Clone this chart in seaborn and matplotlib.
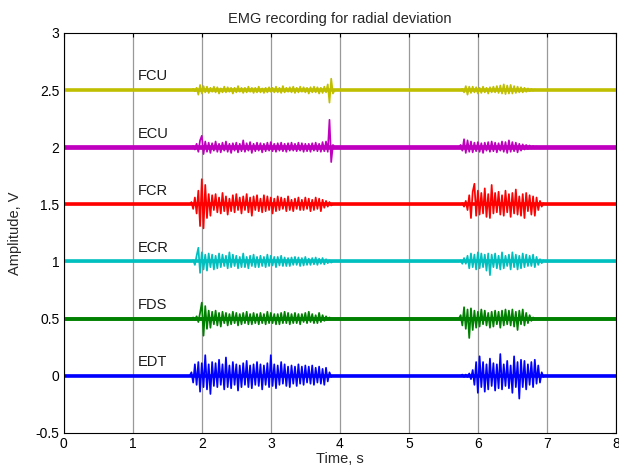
import numpy as np
import matplotlib
matplotlib.use("Agg")
import matplotlib.pyplot as plt
import seaborn as sns

# ---- data ----
channels = ["FCU", "ECU", "FCR", "ECR", "FDS", "EDT"]
offsets = [2.5, 2.0, 1.5, 1.0, 0.5, 0.0]
colors = ["#BFBF00", "#BF00BF", "#FF0000", "#00BFBF", "#008000", "#0000FF"]

dt = 0.025
t_end = 8.0
burst1_start = 1.85
burst2_start = 5.75

# signed deviations from baseline, sampled every 0.025 s
fcu_b1 = [0.0, 0.01, -0.01, 0.02, -0.04, 0.045, -0.03, 0.035, -0.02, 0.03,
          -0.025, 0.02, -0.015, 0.03, -0.02, 0.025, -0.03, 0.015, -0.02, 0.03,
          -0.02, 0.025, -0.015, 0.02, -0.03, 0.02, -0.02, 0.035, -0.015, 0.02,
          -0.025, 0.02, -0.02, 0.03, -0.015, 0.02, -0.025, 0.02, -0.02, 0.03,
          -0.02, 0.015, -0.025, 0.02, -0.02, 0.025, -0.015, 0.02, -0.02, 0.03,
          -0.02, 0.02, -0.025, 0.035, -0.02, 0.02, -0.015, 0.025, -0.02, 0.03,
          -0.025, 0.02, -0.02, 0.03, -0.015, 0.025, -0.02, 0.02, -0.03, 0.025,
          -0.02, 0.03, -0.02, 0.025, -0.03, 0.02, -0.025, 0.03, -0.02, 0.05,
          -0.11, 0.10, -0.03]
fcu_b2 = [0.0, 0.01, -0.02, 0.035, -0.04, 0.03, -0.025, 0.03, -0.02, 0.025,
          -0.03, 0.02, -0.025, 0.03, -0.02, 0.02, -0.03, 0.025, -0.02, 0.03,
          -0.02, 0.035, -0.025, 0.04, -0.03, 0.05, -0.035, 0.04, -0.03, 0.045,
          -0.03, 0.035, -0.025, 0.03, -0.02, 0.025, -0.02, 0.02, -0.015, 0.015,
          -0.01, 0.01, -0.005, 0.005, 0.0, 0.0, 0.0, 0.0, 0.0, 0.0, 0.0]

ecu_b1 = [0.0, 0.01, -0.02, 0.03, -0.04, 0.06, 0.10, -0.06, 0.05, -0.04,
          0.04, -0.05, 0.035, -0.03, 0.05, -0.04, 0.03, -0.045, 0.04, -0.03,
          0.05, -0.04, 0.03, -0.05, 0.035, -0.03, 0.04, -0.045, 0.03, -0.035,
          0.06, -0.04, 0.035, -0.03, 0.045, -0.05, 0.03, -0.035, 0.04, -0.03,
          0.035, -0.045, 0.03, -0.035, 0.04, -0.03, 0.045, -0.035, 0.03, -0.04,
          0.035, -0.03, 0.04, -0.035, 0.03, -0.04, 0.035, -0.03, 0.04, -0.03,
          0.03, -0.035, 0.04, -0.03, 0.035, -0.04, 0.03, -0.035, 0.03, -0.04,
          0.035, -0.03, 0.04, -0.035, 0.03, -0.04, 0.045, -0.035, 0.05, -0.04,
          0.24, -0.13, 0.02]
ecu_b2 = [0.02, -0.03, 0.07, -0.05, 0.06, -0.04, 0.05, -0.045, 0.04, -0.035,
          0.045, -0.04, 0.035, -0.05, 0.04, -0.03, 0.045, -0.04, 0.05, -0.035,
          0.04, -0.045, 0.035, -0.03, 0.05, -0.04, 0.045, -0.05, 0.06, -0.04,
          0.045, -0.035, 0.04, -0.045, 0.03, -0.03, 0.025, -0.02, 0.02, -0.015,
          0.015, -0.01, 0.01, -0.01, 0.005, 0.0, 0.0, 0.0, 0.0, 0.0, 0.0]

fcr_b1 = [0.02, -0.04, 0.06, -0.08, 0.12, -0.19, 0.22, -0.21, 0.17, -0.12,
          0.09, -0.10, 0.08, -0.05, 0.09, -0.07, 0.06, -0.08, 0.10, -0.06,
          0.07, -0.09, 0.05, -0.06, 0.08, -0.07, 0.09, -0.05, 0.06, -0.08,
          0.07, -0.05, 0.09, -0.07, 0.06, -0.10, 0.07, -0.05, 0.08, -0.06,
          0.05, -0.07, 0.08, -0.06, 0.07, -0.05, 0.06, -0.08, 0.05, -0.06,
          0.07, -0.05, 0.06, -0.04, 0.05, -0.06, 0.07, -0.05, 0.04, -0.06,
          0.05, -0.04, 0.06, -0.05, 0.04, -0.05, 0.06, -0.04, 0.05, -0.06,
          0.04, -0.05, 0.06, -0.04, 0.05, -0.06, 0.04, -0.03, 0.03, -0.02,
          0.02, -0.01, 0.0]
fcr_b2 = [0.0, 0.01, -0.02, 0.03, -0.05, 0.08, -0.12, 0.11, 0.18, -0.10,
          0.12, -0.09, 0.10, -0.08, 0.14, -0.11, 0.09, -0.12, 0.17, -0.08,
          0.10, -0.07, 0.11, -0.09, 0.08, -0.10, 0.12, -0.07, 0.09, -0.11,
          0.10, -0.08, 0.13, -0.09, 0.07, -0.10, 0.09, -0.12, 0.10, -0.06,
          0.08, -0.09, 0.07, -0.10, 0.06, -0.05, 0.03, -0.02, 0.01, 0.0, 0.0]

ecr_b1 = [0.0, 0.01, -0.03, 0.05, 0.12, -0.10, 0.08, -0.07, 0.06, -0.08,
          0.07, -0.05, 0.06, -0.07, 0.05, -0.06, 0.07, -0.05, 0.06, -0.04,
          0.05, -0.06, 0.08, -0.05, 0.06, -0.04, 0.05, -0.06, 0.04, -0.05,
          0.07, -0.05, 0.04, -0.06, 0.05, -0.04, 0.06, -0.05, 0.04, -0.05,
          0.05, -0.04, 0.04, -0.05, 0.06, -0.04, 0.05, -0.035, 0.04, -0.05,
          0.04, -0.035, 0.05, -0.04, 0.035, -0.04, 0.03, -0.04, 0.035, -0.03,
          0.04, -0.03, 0.035, -0.04, 0.03, -0.035, 0.04, -0.03, 0.025, -0.03,
          0.03, -0.025, 0.035, -0.03, 0.025, -0.02, 0.03, -0.025, 0.02, -0.015,
          0.01, -0.01, 0.0]
ecr_b2 = [0.01, -0.02, 0.03, -0.02, 0.05, -0.06, 0.07, -0.05, 0.06, -0.07,
          0.08, -0.06, 0.07, -0.05, 0.06, -0.08, 0.07, -0.12, 0.06, -0.05,
          0.07, -0.06, 0.05, -0.07, 0.08, -0.06, 0.05, -0.04, 0.06, -0.07,
          0.08, -0.05, 0.06, -0.07, 0.05, -0.06, 0.07, -0.05, 0.06, -0.04,
          0.05, -0.04, 0.06, -0.05, 0.04, -0.03, 0.02, -0.015, 0.01, 0.0, 0.0]

fds_b1 = [0.0, 0.01, -0.01, 0.02, -0.03, 0.05, 0.14, -0.15, 0.11, -0.09,
          0.07, -0.08, 0.06, -0.05, 0.07, -0.06, 0.05, -0.07, 0.06, -0.04,
          0.05, -0.06, 0.04, -0.05, 0.06, -0.04, 0.05, -0.06, 0.04, -0.05,
          0.05, -0.04, 0.06, -0.05, 0.04, -0.05, 0.05, -0.04, 0.04, -0.05,
          0.05, -0.04, 0.04, -0.05, 0.06, -0.04, 0.05, -0.04, 0.04, -0.05,
          0.04, -0.05, 0.05, -0.04, 0.06, -0.04, 0.05, -0.05, 0.04, -0.04,
          0.05, -0.04, 0.04, -0.05, 0.04, -0.03, 0.05, -0.04, 0.06, -0.03,
          0.04, -0.04, 0.03, -0.04, 0.05, -0.03, 0.03, -0.02, 0.02, -0.01,
          0.01, 0.0, 0.0]
fds_b2 = [0.03, -0.06, 0.10, -0.09, 0.08, -0.17, 0.09, -0.10, 0.07, -0.08,
          0.06, -0.07, 0.08, -0.05, 0.07, -0.06, 0.05, -0.08, 0.06, -0.07,
          0.07, -0.05, 0.06, -0.08, 0.07, -0.06, 0.08, -0.05, 0.07, -0.06,
          0.08, -0.07, 0.06, -0.10, 0.07, -0.05, 0.08, -0.06, 0.05, -0.04,
          0.03, -0.02, 0.01, 0.0, 0.0, 0.0, 0.0, 0.0, 0.0, 0.0, 0.0]

edt_b1 = [0.03, -0.06, 0.10, -0.08, 0.12, -0.14, 0.11, -0.10, 0.18, -0.12,
          0.10, -0.16, 0.12, -0.09, 0.11, -0.10, 0.14, -0.08, 0.10, -0.12,
          0.16, -0.10, 0.09, -0.11, 0.12, -0.08, 0.10, -0.13, 0.09, -0.10,
          0.11, -0.08, 0.13, -0.10, 0.09, -0.11, 0.10, -0.08, 0.12, -0.09,
          0.10, -0.12, 0.09, -0.08, 0.11, -0.10, 0.18, -0.09, 0.10, -0.11,
          0.09, -0.08, 0.12, -0.07, 0.10, -0.09, 0.08, -0.10, 0.09, -0.07,
          0.08, -0.09, 0.10, -0.07, 0.08, -0.08, 0.09, -0.06, 0.08, -0.07,
          0.09, -0.08, 0.07, -0.06, 0.08, -0.07, 0.06, -0.08, 0.07, -0.05,
          0.03, -0.01, 0.0]
edt_b2 = [0.0, 0.01, -0.01, 0.01, -0.01, 0.02, -0.03, 0.05, -0.08, 0.12,
          -0.15, 0.17, -0.10, 0.12, -0.14, 0.10, -0.12, 0.15, -0.09, 0.11,
          -0.13, 0.10, -0.11, 0.19, -0.12, 0.10, -0.09, 0.13, -0.11, 0.09,
          -0.15, 0.17, -0.10, 0.12, -0.20, 0.14, -0.10, 0.13, -0.12, 0.10,
          -0.08, 0.12, -0.10, 0.14, -0.07, 0.09, -0.06, 0.03, -0.01, 0.0, 0.0]

bursts1 = [fcu_b1, ecu_b1, fcr_b1, ecr_b1, fds_b1, edt_b1]
bursts2 = [fcu_b2, ecu_b2, fcr_b2, ecr_b2, fds_b2, edt_b2]

xticks = [0, 1, 2, 3, 4, 5, 6, 7, 8]
yticks = [-0.5, 0, 0.5, 1, 1.5, 2, 2.5, 3]
ytick_labels = ["-0.5", "0", "0.5", "1", "1.5", "2", "2.5", "3"]

# ---- figure ----
sns.set_theme(style="white")
plt.rcParams["font.family"] = ["Liberation Sans", "DejaVu Sans"]
plt.rcParams["xtick.direction"] = "in"
plt.rcParams["ytick.direction"] = "in"

fig = plt.figure(figsize=(6.19, 4.71), dpi=100)
ax = fig.add_axes([0.103, 0.081, 0.892, 0.849])

n = int(round(t_end / dt)) + 1
t = np.linspace(0, t_end, n)
i1 = int(round(burst1_start / dt))
i2 = int(round(burst2_start / dt))

base_widths = [2.6, 3.4, 2.6, 2.6, 2.8, 2.6]

for name, off, col, b1, b2, bw in zip(channels, offsets, colors, bursts1, bursts2, base_widths):
    dev = np.zeros(n)
    dev[i1:i1 + len(b1)] = b1
    dev[i2:i2 + len(b2)] = b2
    # baseline noise band
    sns.lineplot(x=[0, t_end], y=[off, off], color=col, lw=bw, ax=ax, estimator=None)
    # signal
    sns.lineplot(x=t, y=off + dev, color=col, lw=1.25, ax=ax, estimator=None, sort=False)
    ax.text(1.07, off + 0.12, name, fontsize=10.5, color="#1a1a1a", va="center", ha="left")

ax.set_xlim(0, 8)
ax.set_ylim(-0.5, 3)
ax.set_xticks(xticks)
ax.set_xticklabels([str(v) for v in xticks])
ax.set_yticks(yticks)
ax.set_yticklabels(ytick_labels)
ax.tick_params(axis="both", which="both", labelsize=10, length=3, width=0.8,
               top=True, right=True, colors="black", pad=3)
ax.grid(axis="x", color="#999999", lw=0.9)
ax.grid(axis="y", visible=False)
ax.set_axisbelow(True)
for s in ax.spines.values():
    s.set_color("black")
    s.set_linewidth(0.8)

ax.set_title("EMG recording for radial deviation", fontsize=10.5, pad=7)
ax.set_xlabel("Time, s", fontsize=10.5, labelpad=1)
ax.set_ylabel("Amplitude, V", fontsize=10.5, labelpad=10)

fig.savefig("out.png", dpi=100, facecolor="white")
